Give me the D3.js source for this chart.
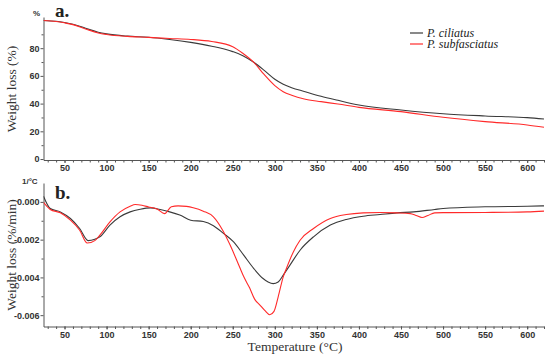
<!DOCTYPE html>
<html>
<head>
<meta charset="utf-8">
<script src="https://cdn.jsdelivr.net/npm/d3@7"></script>
<style>
  body { margin: 0; background: #fff; }
  svg { display: block; }
  .tick text { font-family: "Liberation Sans", Arial, sans-serif; font-weight: bold; font-size: 9px; fill: #333; }
</style>
</head>
<body>
<svg id="chart" width="550" height="357"></svg>
<script>
// series names
var seriesNames = ["P. ciliatus", "P. subfasciatus"];
var seriesColours = ["#3a3a3a", "#ff2a2a"];

// TG curves (weight %)
var tgTempCiliatus = [25, 40, 50, 60, 75, 90, 100, 125, 150, 175, 200, 225, 250, 262, 275, 287, 300, 310, 320, 335, 355, 375, 400, 450, 500, 550, 600, 620];
var tgCiliatus     = [100, 99.4, 98.5, 97.3, 94.4, 91.5, 90.3, 88.7, 87.9, 86.3, 84.2, 81.4, 77.5, 74.6, 69.8, 64.2, 57.6, 54.0, 51.5, 48.8, 45.3, 42.4, 39.0, 35.4, 32.7, 31.1, 29.9, 28.9];
var tgTempSubfasc  = [25, 40, 50, 60, 75, 90, 100, 125, 150, 175, 200, 225, 250, 262, 275, 287, 300, 310, 320, 335, 355, 375, 400, 450, 500, 550, 600, 620];
var tgSubfasc      = [100, 99.3, 98.3, 97.0, 93.9, 91.0, 89.9, 88.5, 87.8, 87.0, 86.3, 84.8, 81.1, 76.3, 69.8, 61.2, 53.0, 48.6, 46.0, 43.3, 41.4, 39.7, 37.3, 34.2, 30.1, 27.0, 24.6, 22.9];

// DTG curves (x 0.001, per °C)
var dtgTempCiliatus = [25, 33, 45, 57, 68, 78, 86, 92, 104, 116, 128, 140, 152, 165, 175, 187, 200, 215, 227, 239, 251, 263, 275, 286, 292, 298, 304, 310, 318, 330, 346, 366, 385, 405, 425, 445, 465, 490, 500, 550, 600, 620];
var dtgCiliatus     = [0.30, -0.35, -0.53, -0.88, -1.41, -2.05, -1.98, -1.85, -1.23, -0.79, -0.53, -0.39, -0.32, -0.42, -0.53, -0.70, -0.97, -1.04, -1.26, -1.67, -2.12, -2.82, -3.53, -4.06, -4.24, -4.33, -4.24, -3.88, -3.35, -2.56, -1.85, -1.23, -0.93, -0.76, -0.67, -0.58, -0.53, -0.40, -0.35, -0.26, -0.23, -0.21];
var dtgTempSubfasc  = [25, 33, 45, 57, 68, 77, 86, 92, 104, 116, 128, 134, 142, 150, 160, 169, 177, 185, 195, 203, 215, 227, 238, 247, 258, 264, 270, 276, 282, 288, 294, 299, 304, 310, 314, 322, 330, 346, 366, 385, 405, 425, 445, 461, 468, 475, 482, 490, 500, 550, 600, 620];
var dtgSubfasc      = [-0.03, -0.40, -0.58, -0.97, -1.50, -2.18, -2.05, -1.76, -1.06, -0.53, -0.23, -0.14, -0.18, -0.27, -0.38, -0.62, -0.26, -0.21, -0.24, -0.31, -0.49, -0.79, -1.50, -2.30, -3.44, -4.05, -4.55, -5.15, -5.45, -5.75, -5.98, -5.80, -5.03, -3.97, -3.50, -2.65, -2.03, -1.41, -0.88, -0.67, -0.58, -0.56, -0.58, -0.62, -0.72, -0.83, -0.72, -0.58, -0.57, -0.56, -0.53, -0.49];

// tick labels
var xTicks = [50, 100, 150, 200, 250, 300, 350, 400, 450, 500, 550, 600];
var tgTicks = [0, 20, 40, 60, 80];
var dtgTicks = [0, -0.002, -0.004, -0.006];

var svg = d3.select("#chart");
var axisColour = "#555";

var x = d3.scaleLinear().domain([25, 620]).range([43.5, 544]);
var yTop = d3.scaleLinear().domain([-0.7, 102.5]).range([160, 17]);
var yBot = d3.scaleLinear().domain([-0.0066, 0.001]).range([326.5, 183]);

function styleAxis(g) {
  g.select(".domain").attr("stroke", axisColour);
  g.selectAll(".tick line").attr("stroke", axisColour);
}

function drawPanel(yScale, yTickVals, yFmt, yMinor, xAxisY) {
  // minor x ticks every 10
  var gxm = svg.append("g").attr("transform", "translate(0," + xAxisY + ")")
    .call(d3.axisBottom(x).tickValues(d3.range(30, 621, 10)).tickSize(2.5).tickFormat("").tickSizeOuter(0));
  styleAxis(gxm);
  var gx = svg.append("g").attr("transform", "translate(0," + xAxisY + ")")
    .call(d3.axisBottom(x).tickValues(xTicks).tickSize(3).tickPadding(2).tickSizeOuter(0));
  styleAxis(gx);
  gx.select(".domain").remove();

  var gym = svg.append("g").attr("transform", "translate(43.5,0)")
    .call(d3.axisLeft(yScale).tickValues(yMinor).tickSize(2).tickFormat("").tickSizeOuter(0));
  styleAxis(gym);
  var gy = svg.append("g").attr("transform", "translate(43.5,0)")
    .call(d3.axisLeft(yScale).tickValues(yTickVals).tickSize(3).tickPadding(1).tickFormat(yFmt).tickSizeOuter(0));
  styleAxis(gy);
  gy.select(".domain").remove();
}

drawPanel(yTop, tgTicks, d3.format("d"), d3.range(10, 101, 20), 160);
drawPanel(yBot, dtgTicks, function(d){ return d === 0 ? "0.000" : d3.format(".3f")(d).replace("−", "-"); },
  [-0.001, -0.003, -0.005], 326.5);

// curves
var lineTop = d3.line().x(function(d){ return x(d[0]); }).y(function(d){ return yTop(d[1]); }).curve(d3.curveMonotoneX);
var lineBot = d3.line().x(function(d){ return x(d[0]); }).y(function(d){ return yBot(d[1] / 1000); }).curve(d3.curveMonotoneX);

function zip(a, b) { return a.map(function(v, i){ return [v, b[i]]; }); }

var clip = svg.append("clipPath").attr("id", "clip").append("rect")
  .attr("x", 43.5).attr("y", 0).attr("width", 502).attr("height", 357);

[[tgTempCiliatus, tgCiliatus, 0], [tgTempSubfasc, tgSubfasc, 1]].forEach(function(s) {
  svg.append("path").datum(zip(s[0], s[1])).attr("d", lineTop)
    .attr("fill", "none").attr("stroke", seriesColours[s[2]]).attr("stroke-width", 1.1)
    .attr("clip-path", "url(#clip)");
});
[[dtgTempCiliatus, dtgCiliatus, 0], [dtgTempSubfasc, dtgSubfasc, 1]].forEach(function(s) {
  svg.append("path").datum(zip(s[0], s[1])).attr("d", lineBot)
    .attr("fill", "none").attr("stroke", seriesColours[s[2]]).attr("stroke-width", 1.1)
    .attr("clip-path", "url(#clip)");
});

// unit labels
svg.append("text").attr("x", 33).attr("y", 15.5).text("%")
  .style("font-family", "Liberation Sans, Arial, sans-serif").style("font-weight", "bold")
  .style("font-size", "8px").style("fill", "#333");
svg.append("text").attr("x", 22).attr("y", 184).text("1/°C")
  .style("font-family", "Liberation Sans, Arial, sans-serif").style("font-weight", "bold")
  .style("font-size", "8px").style("fill", "#333");

// panel letters
svg.append("text").attr("x", 55).attr("y", 17).text("a.")
  .style("font-family", "Liberation Serif, serif").style("font-weight", "bold").style("font-size", "19px").style("fill", "#222");
svg.append("text").attr("x", 55).attr("y", 199).text("b.")
  .style("font-family", "Liberation Serif, serif").style("font-weight", "bold").style("font-size", "19px").style("fill", "#222");

// axis titles
var serif = "Liberation Serif, 'DejaVu Serif', serif";
svg.append("text").attr("transform", "translate(16,89) rotate(-90)").attr("text-anchor", "middle")
  .text("Weight loss (%)").style("font-family", serif).style("font-size", "13.5px").style("fill", "#333");
svg.append("text").attr("transform", "translate(16,255) rotate(-90)").attr("text-anchor", "middle")
  .text("Weight loss (%/min)").style("font-family", serif).style("font-size", "13.5px").style("fill", "#333");
svg.append("text").attr("x", 295).attr("y", 351).attr("text-anchor", "middle")
  .text("Temperature (°C)").style("font-family", serif).style("font-size", "13.5px").style("fill", "#333");

// legend
var legend = svg.append("g");
seriesNames.forEach(function(name, i) {
  var ly = 33 + i * 11;
  legend.append("line").attr("x1", 410).attr("x2", 423).attr("y1", ly).attr("y2", ly)
    .attr("stroke", seriesColours[i]).attr("stroke-width", 1.2);
  legend.append("text").attr("x", 427).attr("y", ly + 4).text(name)
    .style("font-family", serif).style("font-style", "italic").style("font-size", "12px").style("fill", "#222");
});
</script>
</body>
</html>
